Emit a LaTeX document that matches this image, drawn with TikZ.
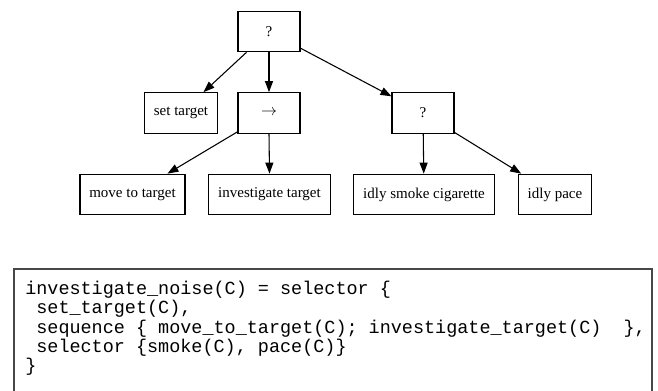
\documentclass[tikz,border=0pt]{standalone}
\usepackage{fontspec}
\setmainfont{Liberation Serif}
\setmonofont{Liberation Mono}
\usetikzlibrary{arrows.meta}
\begin{document}
\begin{tikzpicture}[x=0.75pt,y=-0.75pt,
  box/.style={draw=black,line width=0.8pt,rectangle,inner xsep=7pt,inner ysep=0pt,
    minimum width=46.5pt,minimum height=30.5pt,
    font=\fontsize{11.25}{13}\selectfont},
  edge/.style={draw=black,line width=0.8pt,-{Triangle[length=8.25pt,width=6pt]}},
  codeline/.style={anchor=base west,inner sep=0pt,
    font=\ttfamily\fontsize{13.85}{15}\selectfont},
  frame/.style={draw=black!72,line width=1.2pt}]
\useasboundingbox (0,0) rectangle (658,390);
% tree
\node[box] (root) at (269,31.5) {?};
\node[box] (set) at (181,113) {set target};
\node[box] (seq) at (269,113) {\fontsize{13}{14}\selectfont$\rightarrow$};
\node[box] (sel) at (423,113) {?};
\node[box] (move) at (132.5,194.5) {move to target};
\node[box] (inv) at (269.5,194.5) {investigate target};
\node[box] (smoke) at (424,194.5) {idly smoke cigarette};
\node[box] (pace) at (555,194.5) {idly pace};
\draw[edge] (root) -- (set);
\draw[edge] (root) -- (seq);
\draw[edge] (root) -- (sel);
\draw[edge] (seq) -- (move);
\draw[edge] (seq.south) -- (inv.north);
\draw[edge] (sel) -- (smoke);
\draw[edge] (sel) -- (pace);
% code frame
\coordinate (fbl) at (14,391);
\coordinate (ftl) at (14,269);
\coordinate (ftr) at (652,269);
\coordinate (fbr) at (652,391);
\draw[frame] (fbl) -- (ftl) -- (ftr) -- (fbr);
\node[codeline] (l1) at (25,294.5) {investigate\_noise(C) = selector \{};
\node[codeline] (l2) at (25,313.5) {\ set\_target(C),};
\node[codeline] (l3) at (25,333) {\ sequence \{ move\_to\_target(C); investigate\_target(C)\ \ \},};
\node[codeline] (l4) at (25,352) {\ selector \{smoke(C), pace(C)\}};
\node[codeline] (l5) at (25,371) {\}};
\end{tikzpicture}
\end{document}
